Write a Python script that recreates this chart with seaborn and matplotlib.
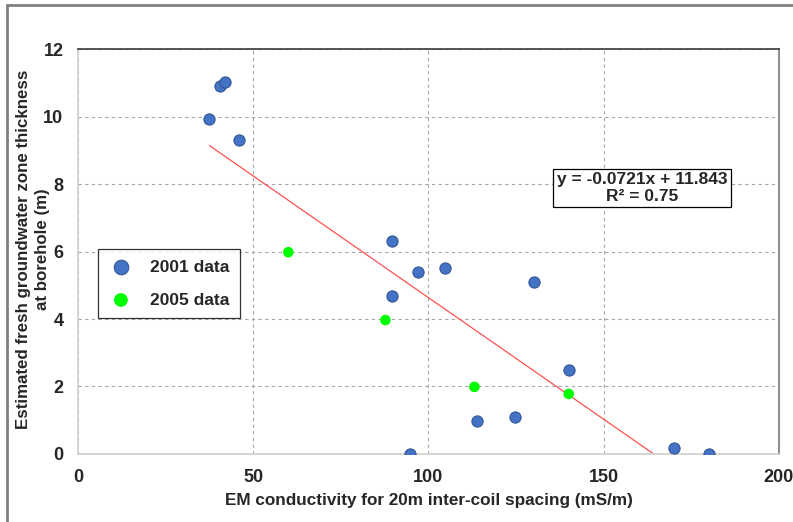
import numpy as np
import pandas as pd
import matplotlib
matplotlib.use("Agg")
import matplotlib.pyplot as plt
import seaborn as sns
from matplotlib.lines import Line2D

# 2001 survey
em_2001 = [37.5, 40.5, 41.8, 45.8, 89.7, 96.9, 104.6, 89.7, 130, 140, 113.7, 124.6, 94.6, 170, 180]
thick_2001 = [9.93, 10.9, 11.02, 9.3, 6.31, 5.39, 5.51, 4.68, 5.1, 2.49, 0.98, 1.1, 0.0, 0.18, 0.0]

# 2005 survey
em_2005 = [60, 87.7, 113.1, 140]
thick_2005 = [5.98, 3.97, 1.99, 1.78]

# trend line shown on the chart
slope = -0.0721
intercept = 11.843
r2 = 0.75

df = pd.DataFrame({
    "em": em_2001 + em_2005,
    "thick": thick_2001 + thick_2005,
    "year": ["2001 data"] * len(em_2001) + ["2005 data"] * len(em_2005),
})

sns.set_theme(style="white")
plt.rcParams['font.family'] = ['Liberation Sans', 'DejaVu Sans']

fig = plt.figure(figsize=(7.93, 5.22), dpi=100)
ax = fig.add_axes([0.0984, 0.1303, 0.8839, 0.7757])

palette = {"2001 data": "#4472C4", "2005 data": "#00FF00"}
sns.scatterplot(data=df[df.year == "2001 data"], x="em", y="thick", color=palette["2001 data"],
                s=66, edgecolor="#2F528F", linewidth=0.7, ax=ax, label="2001 data", zorder=3)
sns.scatterplot(data=df[df.year == "2005 data"], x="em", y="thick", color=palette["2005 data"],
                s=58, edgecolor="none", ax=ax, label="2005 data", zorder=3)

x0 = min(em_2001 + em_2005)
x1 = -intercept / slope
xs = np.array([x0, x1])
ax.plot(xs, slope * xs + intercept, color="#FF5050", lw=0.9, zorder=2)

ax.set_xlim(0, 200)
ax.set_ylim(0, 12)
ax.set_xticks([0, 50, 100, 150, 200])
ax.set_yticks([0, 2, 4, 6, 8, 10, 12])
ax.grid(True, linestyle=(0, (3, 3)), color="#A6A6A6", lw=0.8)
ax.tick_params(axis="both", labelsize=13, length=0, pad=10.5)
for lab in ax.get_xticklabels() + ax.get_yticklabels():
    lab.set_fontweight("bold")

ax.spines["left"].set_color("#D0D0D0")
ax.spines["bottom"].set_color("#D0D0D0")
ax.spines["top"].set_color("#404040")
ax.spines["right"].set_color("#909090")
ax.spines["right"].set_linewidth(1.5)

ax.set_xlabel("EM conductivity for 20m inter-coil spacing (mS/m)", fontsize=12.3,
              fontweight="bold", labelpad=5)
# y title is two centred lines; second line is drawn separately so it can sit close to the ticks
ax.set_ylabel("Estimated fresh groundwater zone thickness", fontsize=12.2, fontweight="bold")
ax.yaxis.set_label_coords(-0.0785, 0.505)
ax.yaxis.label.set_va("center")
ax.text(-0.0514, 0.505, "at borehole (m)", transform=ax.transAxes, rotation=90,
        ha="center", va="center", fontsize=12.2, fontweight="bold")

leg = ax.legend(loc="lower left", bbox_to_anchor=(0.029, 0.336), fontsize=12.5,
                frameon=True, fancybox=False, borderpad=0.6, labelspacing=1.0,
                handletextpad=1.0, handlelength=1.4, borderaxespad=0, markerscale=1.3)
leg.get_frame().set_edgecolor("black")
leg.get_frame().set_linewidth(0.9)
for t in leg.get_texts():
    t.set_fontweight("bold")

ax.text(160.9, 7.88, f"y = {slope}x + {intercept}\nR² = {r2}", ha="center", va="center",
        fontsize=12.5, fontweight="bold", linespacing=1.15,
        bbox=dict(boxstyle="square,pad=0.2", fc="white", ec="black", lw=0.9), zorder=4)

# outer frame of the chart area (top and left edges visible)
fig.add_artist(Line2D([0.0088, 1.0], [0.990, 0.990], color="#808080", lw=2, transform=fig.transFigure))
fig.add_artist(Line2D([0.0088, 0.0088], [0.0, 0.990], color="#808080", lw=2, transform=fig.transFigure))

fig.savefig("out.png", dpi=100)
